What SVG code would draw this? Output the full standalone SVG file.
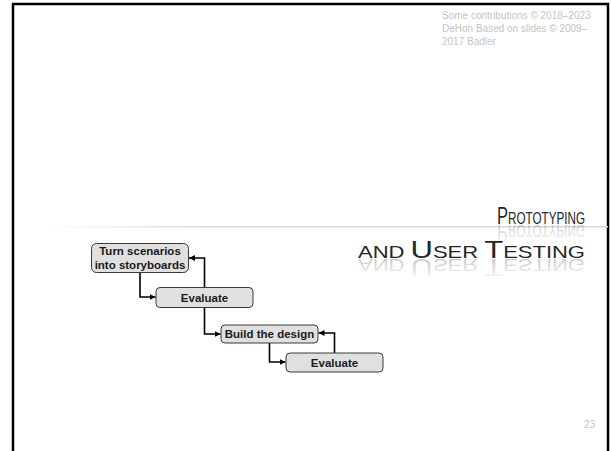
<svg xmlns="http://www.w3.org/2000/svg" width="611" height="451" viewBox="0 0 611 451">
<defs>
<style>
.frame{fill:none;stroke:#000;stroke-width:2.5}
.copy{font-family:"Liberation Sans",Arial,sans-serif;font-size:10px;fill:#c4c4c4}
.title{font-family:"Liberation Sans",Arial,sans-serif;fill:#262626}
.refl{font-family:"Liberation Sans",Arial,sans-serif;fill:url(#fade)}
.box{fill:#e0e0e0;stroke:#3a3a3a;stroke-width:1}
.lbl{font-family:"Liberation Sans",Arial,sans-serif;font-weight:bold;font-size:11.5px;fill:#1a1a1a;text-anchor:middle}
.con{fill:none;stroke:#000;stroke-width:1.6}
.pg{font-family:"Liberation Sans",Arial,sans-serif;font-size:10px;fill:#c4c4c4;text-anchor:end}
</style>
<linearGradient id="fade" x1="0" y1="0" x2="0" y2="1">
<stop offset="0" stop-color="#262626" stop-opacity="0"/>
<stop offset="1" stop-color="#262626" stop-opacity="0.3"/>
</linearGradient>
<linearGradient id="rule" x1="0" y1="0" x2="1" y2="0">
<stop offset="0" stop-color="#d8d8d8" stop-opacity="0"/>
<stop offset="0.3" stop-color="#d8d8d8" stop-opacity="1"/>
<stop offset="1" stop-color="#d8d8d8" stop-opacity="1"/>
</linearGradient>
<marker id="ah" markerUnits="userSpaceOnUse" markerWidth="7" markerHeight="7" refX="6" refY="3" orient="auto">
<path d="M0,0 L6,3 L0,6 z" fill="#000"/>
</marker>
</defs>
<rect class="frame" x="13" y="4" width="595" height="470"/>
<g id="copyright">
<text class="copy" x="442" y="19">Some contributions © 2018–2023</text>
<text class="copy" x="442" y="32">DeHon Based on slides © 2009–</text>
<text class="copy" x="442" y="45">2017 Badler</text>
</g>
<rect x="45" y="226" width="563" height="1.5" fill="url(#rule)"/>
<g id="title">
<text class="title" x="497" y="224" textLength="88" lengthAdjust="spacingAndGlyphs"><tspan font-size="24">P</tspan><tspan font-size="17">ROTOTYPING</tspan></text>
<text class="title" x="358" y="258" textLength="227" lengthAdjust="spacingAndGlyphs"><tspan font-size="17">AND </tspan><tspan font-size="24">U</tspan><tspan font-size="17">SER </tspan><tspan font-size="24">T</tspan><tspan font-size="17">ESTING</tspan></text>
<text class="refl" x="497" y="224" textLength="88" lengthAdjust="spacingAndGlyphs" transform="translate(0,449) scale(1,-1)"><tspan font-size="24">P</tspan><tspan font-size="17">ROTOTYPING</tspan></text>
<text class="refl" x="358" y="258" textLength="227" lengthAdjust="spacingAndGlyphs" transform="translate(0,517) scale(1,-1)"><tspan font-size="17">AND </tspan><tspan font-size="24">U</tspan><tspan font-size="17">SER </tspan><tspan font-size="24">T</tspan><tspan font-size="17">ESTING</tspan></text>
</g>
<g id="connectors">
<path class="con" d="M140,273 V297 H155.5" marker-end="url(#ah)"/>
<path class="con" d="M204.5,287.5 V258 H189" marker-end="url(#ah)"/>
<path class="con" d="M204.5,307.5 V334 H220.5" marker-end="url(#ah)"/>
<path class="con" d="M269.5,343 V362 H285.5" marker-end="url(#ah)"/>
<path class="con" d="M334.5,353 V333 H318.5" marker-end="url(#ah)"/>
</g>
<g id="n1">
<rect class="box" x="91.5" y="243.5" width="97" height="29" rx="5"/>
<text class="lbl" x="140" y="255">Turn scenarios</text>
<text class="lbl" x="140" y="269">into storyboards</text>
</g>
<g id="n2">
<rect class="box" x="156" y="287.5" width="97" height="20" rx="4"/>
<text class="lbl" x="204.5" y="301.5">Evaluate</text>
</g>
<g id="n3">
<rect class="box" x="221" y="325" width="97" height="18" rx="4"/>
<text class="lbl" x="269.5" y="338">Build the design</text>
</g>
<g id="n4">
<rect class="box" x="286" y="353" width="97" height="19" rx="4"/>
<text class="lbl" x="334.5" y="366.5">Evaluate</text>
</g>
<text class="pg" x="595" y="428">23</text>
</svg>
